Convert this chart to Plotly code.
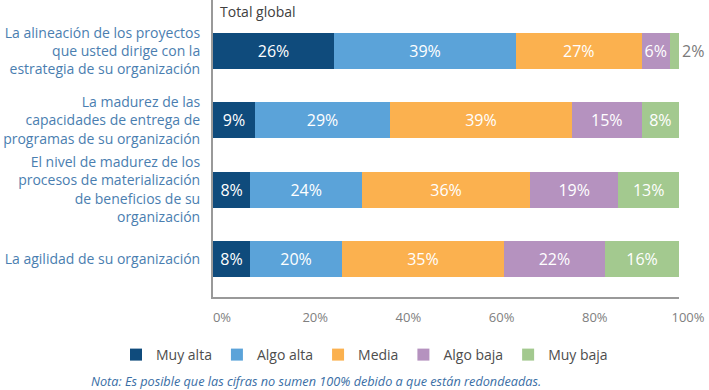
import plotly.graph_objects as go

categories = [
    "La alineación de los proyectos<br>que usted dirige con la<br>estrategia de su organización",
    "La madurez de las<br>capacidades de entrega de<br>programas de su organización",
    "El nivel de madurez de los<br>procesos de materialización<br>de beneficios de su<br>organización",
    "La agilidad de su organización",
]
series_names = ["Muy alta", "Algo alta", "Media", "Algo baja", "Muy baja"]
muy_alta = [26, 9, 8, 8]
algo_alta = [39, 29, 24, 20]
media = [27, 39, 36, 35]
algo_baja = [6, 15, 19, 22]
muy_baja = [2, 8, 13, 16]
tick_vals = [0, 20, 40, 60, 80, 100]
tick_text = ["0%", "20%", "40%", "60%", "80%", "100%"]

colors = ["#0f4b7c", "#5ba3d9", "#fbb14f", "#b592bf", "#a3c98f"]
series = [muy_alta, algo_alta, media, algo_baja, muy_baja]

FONT = "Open Sans"
fig = go.Figure()
for name, vals, col in zip(series_names, series, colors):
    if name == "Muy baja":
        pos = ["outside" if v < 5 else "inside" for v in vals]
        tcol = ["#7a7a7a" if v < 5 else "white" for v in vals]
    else:
        pos = ["inside"] * len(vals)
        tcol = ["white"] * len(vals)
    fig.add_trace(go.Bar(
        y=categories, x=vals, name=name, orientation="h",
        marker=dict(color=col, line=dict(width=0)),
        text=vals, texttemplate="%{text}%", textposition=pos,
        insidetextanchor="middle", textangle=0,
        textfont=dict(color=tcol, size=16, family=FONT),
        constraintext="none", cliponaxis=False, width=0.52,
        hoverinfo="skip",
    ))

plot_l, plot_r, plot_t, plot_b = 213, 30, 0, 93
plot_w = 709 - plot_l - plot_r
plot_h = 390 - plot_t - plot_b

fig.update_layout(
    width=709, height=390, autosize=False,
    barmode="stack", barnorm="percent",
    margin=dict(l=plot_l, r=plot_r, t=plot_t, b=plot_b, autoexpand=False),
    plot_bgcolor="white", paper_bgcolor="white",
    font=dict(family=FONT, size=14, color="#555555"),
    xaxis=dict(range=[0, 100], tickvals=tick_vals, ticktext=tick_text,
               showgrid=False, zeroline=False, showline=True,
               linecolor="#999999", linewidth=2, tickangle=0,
               tickfont=dict(size=13, color="#808080", family=FONT),
               ticks="", ticklabelstandoff=7, ticklabelshift=9),
    yaxis=dict(range=[3.55, -0.74], showgrid=False, zeroline=False,
               showline=True, linecolor="#999999", linewidth=2,
               tickfont=dict(size=14, color="#4a7eb0", family=FONT),
               ticks="", ticklabelstandoff=8),
    legend=dict(orientation="h", x=(116 - plot_l) / plot_w, xanchor="left", xref="paper",
                y=-(355 - 297) / plot_h, yanchor="middle", traceorder="normal",
                font=dict(size=14, color="#4d4d4d", family=FONT),
                itemwidth=30),
    showlegend=True,
    annotations=[
        dict(text="Total global", x=0, xref="paper", xanchor="left", xshift=5,
             y=1, yref="paper", yanchor="top", yshift=0, showarrow=False,
             font=dict(size=14, color="#404040", family=FONT)),
        dict(text="<i>Nota: Es posible que las cifras no sumen 100% debido a que están redondeadas.</i>",
             x=(316 - plot_l) / plot_w, xref="paper", xanchor="center",
             y=(plot_h - (381 - plot_t)) / plot_h, yref="paper", yanchor="middle",
             showarrow=False,
             font=dict(size=12.7, color="#3a6ea5", family=FONT)),
    ],
)

fig.write_html("out.html", config={"displayModeBar": False},
               post_script="document.body.style.margin='0';")
